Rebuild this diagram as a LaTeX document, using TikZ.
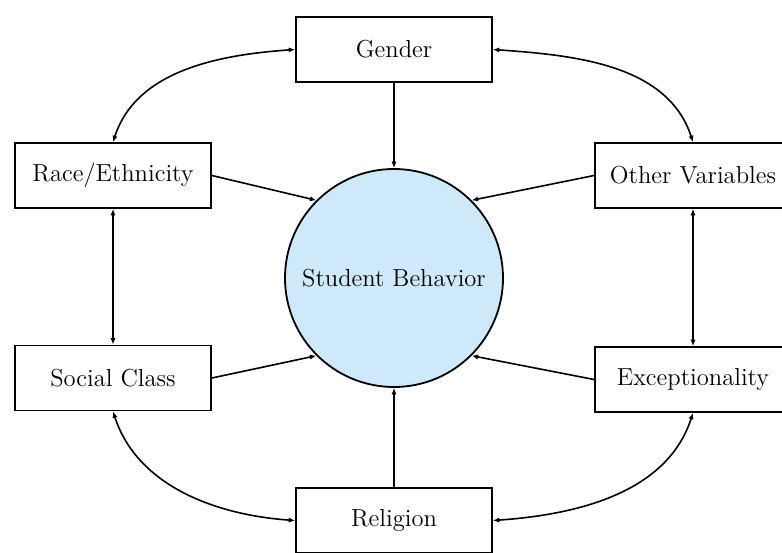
\documentclass[tikz,border=0pt]{standalone}
\usetikzlibrary{arrows.meta}
\definecolor{sbblue}{RGB}{205,233,250}
\begin{document}
\begin{tikzpicture}[x=0.5pt,y=-0.5pt,
  every node/.style={font=\fontsize{12.3}{14}\selectfont},
  box/.style={draw,line width=0.9pt,minimum width=98pt,minimum height=32.5pt,inner sep=0pt,fill=white},
  hub/.style={draw,line width=0.9pt,circle,minimum size=109pt,inner sep=0pt,fill=sbblue},
  arr/.style={line width=0.8pt,-{Latex[length=3.2pt,width=2.6pt]}},
  darr/.style={line width=0.8pt,{Latex[length=3.2pt,width=2.6pt]}-{Latex[length=3.2pt,width=2.6pt]}}]
\useasboundingbox (0,0) rectangle (782,552);
\node[hub] (sb) at (394,278) {Student Behavior};
\node[box] (gender) at (394,49.5) {Gender};
\node[box] (race) at (113,175.5) {Race/Ethnicity};
\node[box] (other) at (693,175.5) {Other Variables};
\node[box] (social) at (113,378) {Social Class};
\node[box] (exc) at (693,379.5) {Exceptionality};
\node[box] (rel) at (394,520.5) {Religion};
\draw[arr] (gender.south) -- (sb.north);
\draw[arr] (rel.north) -- (sb.south);
\draw[arr] (race.east) -- (sb.135);
\draw[arr] (other.west) -- (sb.45);
\draw[arr] (social.east) -- (sb.225);
\draw[arr] (exc.west) -- (sb.-45);
\draw[darr] (race.south) -- (social.north);
\draw[darr] (other.south) -- (exc.north);
\draw[darr] (race.north) to[out=72,in=184,looseness=0.95] (gender.west);
\draw[darr] (gender.east) to[out=-4,in=108,looseness=0.95] (other.north);
\draw[darr] (social.south) to[out=-72,in=176,looseness=0.95] (rel.west);
\draw[darr] (exc.south) to[out=-108,in=4,looseness=0.95] (rel.east);
\end{tikzpicture}
\end{document}
